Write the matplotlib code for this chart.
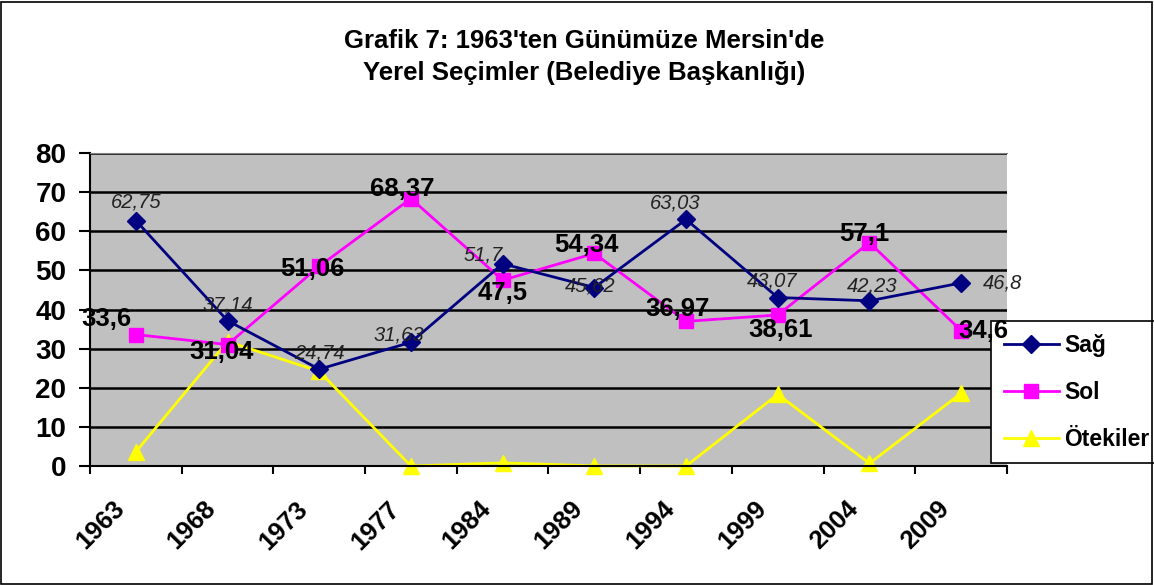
import matplotlib.pyplot as plt
from matplotlib.patches import Rectangle
import numpy as np

plt.rcParams["font.family"] = ["Liberation Sans", "DejaVu Sans"]

# Data
years = ["1963", "1968", "1973", "1977", "1984", "1989", "1994", "1999", "2004", "2009"]
sag = [62.75, 37.14, 24.74, 31.63, 51.7, 45.62, 63.03, 43.07, 42.23, 46.8]
sol = [33.6, 31.04, 51.06, 68.37, 47.5, 54.34, 36.97, 38.61, 57.1, 34.6]
otekiler = [3.65, 31.82, 24.2, 0.0, 0.8, 0.04, 0.0, 18.32, 0.67, 18.6]

sag_labels = ["62,75", "37,14", "24,74", "31,63", "51,7", "45,62", "63,03", "43,07", "42,23", "46,8"]
sol_labels = ["33,6", "31,04", "51,06", "68,37", "47,5", "54,34", "36,97", "38,61", "57,1", "34,6"]

# label offsets in points (dx, dy)
sag_offsets = [(0, 13), (0, 11), (0, 12), (-9, 5), (-14, 6), (-3, 1), (-8, 12), (-4, 12), (2, 11), (30, 0)]
sol_offsets = [(-21, 11), (-4, -5), (-5, -2), (-6, 7), (0, -9), (-6, 6), (-6, 9), (2, -11), (-4, 6), (16, 0)]

x = np.arange(len(years))

fig = plt.figure(figsize=(11.54, 5.85), dpi=100)
fig.patch.set_facecolor("white")
fig.patches.append(Rectangle((0.001, 0.002), 0.997, 0.995, transform=fig.transFigure,
                             fill=False, edgecolor="black", linewidth=1.2))

ax = fig.add_axes([0.078, 0.2034, 0.7946, 0.535])
ax.set_facecolor("#C0C0C0")

ax.plot(x, sag, color="#000080", marker="D", markersize=9, linewidth=2, label="Sağ", zorder=4)
ax.plot(x, sol, color="#FF00FF", marker="s", markersize=10, linewidth=2, label="Sol", zorder=3)
ax.plot(x, otekiler, color="#FFFF00", marker="^", markersize=12, linewidth=2, label="Ötekiler",
        zorder=2, clip_on=False)

for i in range(len(years)):
    ax.annotate(sag_labels[i], (x[i], sag[i]), xytext=sag_offsets[i], textcoords="offset points",
                ha="center", va="center", fontsize=14.5, fontstyle="italic", color="#222222",
                zorder=12, annotation_clip=False)
    ax.annotate(sol_labels[i], (x[i], sol[i]), xytext=sol_offsets[i], textcoords="offset points",
                ha="center", va="center", fontsize=18.5, fontweight="bold", color="black",
                zorder=12, annotation_clip=False)

ax.set_xlim(-0.5, len(years) - 0.5)
ax.set_ylim(0, 80)
ax.set_yticks(np.arange(0, 81, 10))
ax.yaxis.grid(True, color="black", linewidth=1.8)
ax.set_axisbelow(True)

# year labels sit a bit left of the category centre, as in the source chart
ax.set_xticks(x - 0.26)
ax.set_xticklabels(years, rotation=45, ha="right", rotation_mode="anchor",
                   fontsize=18.5, fontweight="bold")
ax.set_xticks(np.arange(-0.5, len(years) + 0.5, 1), minor=True)
ax.tick_params(axis="x", which="major", length=0, pad=22)
ax.tick_params(axis="x", which="minor", length=6, width=1.5, direction="out")
ax.tick_params(axis="y", length=8, width=1.5, direction="out", labelsize=20, pad=9)
for lbl in ax.get_yticklabels():
    lbl.set_fontweight("bold")

ax.spines["left"].set_color("black")
ax.spines["left"].set_linewidth(1.5)
ax.spines["bottom"].set_color("black")
ax.spines["bottom"].set_linewidth(1.5)
ax.spines["top"].set_color("#808080")
ax.spines["right"].set_visible(False)

fig.text(0.5065, 0.902, "Grafik 7: 1963'ten Günümüze Mersin'de\nYerel Seçimler (Belediye Başkanlığı)",
         ha="center", va="center", fontsize=18.5, fontweight="bold", linespacing=1.42)

leg = ax.legend(loc="upper left", bbox_to_anchor=(991 / 1154, 1 - 321 / 585),
                bbox_transform=fig.transFigure,
                frameon=True, fancybox=False, edgecolor="black", framealpha=1,
                prop={"weight": "bold", "size": 16.5}, borderaxespad=0, handlelength=2.4,
                handletextpad=0.25, labelspacing=1.05, borderpad=0.55)
leg.get_frame().set_linewidth(1.2)
leg.set_zorder(10)

fig.savefig("out.png", dpi=100)
